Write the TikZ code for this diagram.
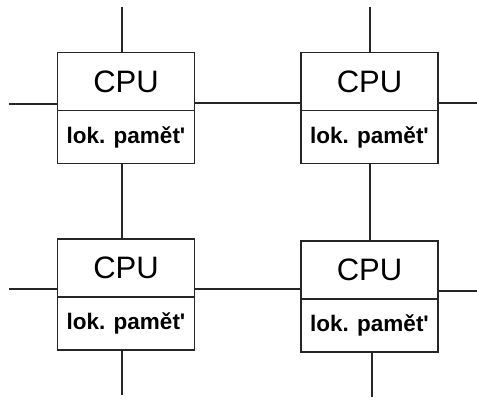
\documentclass[tikz,border=0pt]{standalone}
\usepackage{fontspec}
\setmainfont{Liberation Sans}
\newcommand{\memtext}{lok. pamět\textquotesingle}
\begin{document}
\begin{tikzpicture}[x=1pt,y=-1pt,
  box/.style={draw=black!85, line width=1.3pt, minimum width=137pt, inner sep=0pt, outer sep=0pt},
  cpubox/.style={box, minimum height=58pt, font=\fontsize{31}{31}\selectfont},
  membox/.style={box, minimum height=53pt, font=\bfseries\fontsize{22.5}{22.5}\selectfont},
  link/.style={draw=black!85, line width=1.3pt}]
\useasboundingbox (0,0) rectangle (477,400);
% top left
\node[cpubox] (c1) at (126,81.5) {CPU};
\node[membox, anchor=north] (m1) at (c1.south) {\memtext};
% top right
\node[cpubox] (c2) at (369.5,81.5) {CPU};
\node[membox, anchor=north] (m2) at (c2.south) {\memtext};
% bottom left
\node[cpubox] (c3) at (126,268) {CPU};
\node[membox, anchor=north] (m3) at (c3.south) {\memtext};
% bottom right
\node[cpubox] (c4) at (369.5,270) {CPU};
\node[membox, anchor=north] (m4) at (c4.south) {\memtext};
% free ends
\coordinate (t1) at (122,7);
\coordinate (t2) at (370,7);
\coordinate (l1) at (9,104);
\coordinate (r2) at (477,103);
\coordinate (l3) at (9,289);
\coordinate (r4) at (477,291);
\coordinate (b3) at (122,395);
\coordinate (b4) at (372,397);
% stubs
\draw[link] (t1) -- (t1 |- c1.north);
\draw[link] (t2) -- (t2 |- c2.north);
\draw[link] (l1) -- (l1 -| c1.west);
\draw[link] (r2) -- (r2 -| c2.east);
\draw[link] (l3) -- (l3 -| c3.west);
\draw[link] (r4) -- (r4 -| c4.east);
\draw[link] (b3) -- (b3 |- m3.south);
\draw[link] (b4) -- (b4 |- m4.south);
% links between nodes
\draw[link] ([yshift=-21.5pt]c1.east) -- ([yshift=-21.5pt]c2.west);
\draw[link] ([yshift=-21pt]c3.east) -- ([yshift=-21pt]c3.east -| c4.west);
\draw[link] ([xshift=-4pt]m1.south) -- ([xshift=-4pt]m1.south |- c3.north);
\draw[link] ([xshift=0.5pt]m2.south) -- ([xshift=0.5pt]m2.south |- c4.north);
\end{tikzpicture}
\end{document}
